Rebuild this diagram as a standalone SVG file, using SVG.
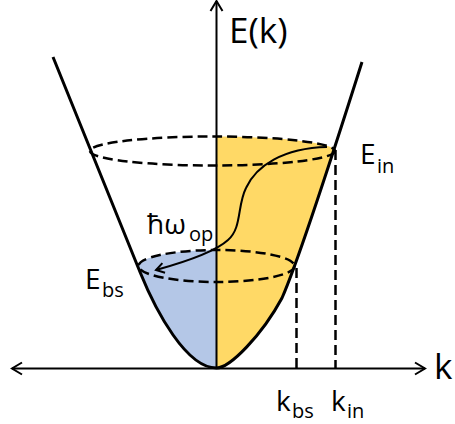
<svg xmlns="http://www.w3.org/2000/svg" width="455" height="424" viewBox="0 0 455 424">
<style>
.lbl{font-family:"Open Sans","Liberation Sans",sans-serif;fill:#000}
.dash{fill:none;stroke:#000;stroke-width:2.5;stroke-dasharray:10 5}
.axis{fill:none;stroke:#000;stroke-width:2}
.band{fill:none;stroke:#000;stroke-width:3;stroke-linejoin:round}
</style>
<defs>
<clipPath id="inside"><path d="M53,57 L140,272 C156.2,312 186.5,368 216.5,368 C230,368 262,335 282,298 C299.6,258 343,122 362,62 Z"/></clipPath>
<marker id="chev" markerUnits="userSpaceOnUse" markerWidth="24" markerHeight="24" viewBox="-12 -12 24 24" refX="0" refY="0" orient="auto-start-reverse"><path d="M-10,-6 L0,0 L-10,6" fill="none" stroke="#000" stroke-width="2"/></marker>
<marker id="chevs" markerUnits="userSpaceOnUse" markerWidth="24" markerHeight="24" viewBox="-12 -12 24 24" refX="0" refY="0" orient="auto"><path d="M-8,-5 L0,0 L-8,5" fill="none" stroke="#000" stroke-width="2"/></marker>
</defs>
<rect width="455" height="424" fill="#fff"/>
<g id="fills" clip-path="url(#inside)">
<path d="M216.5,380 L216.5,136.5 A122.5,14.5 0 0 1 335,151 L420,151 L420,380 Z" fill="#FFD966"/>
<path d="M216.5,380 L216.5,250 A78,16 0 0 0 138.5,266 L40,266 L40,380 Z" fill="#B4C7E7"/>
</g>
<g id="connectors">
<line id="k-axis" class="axis" x1="12" y1="368.5" x2="425" y2="368.5" marker-start="url(#chev)" marker-end="url(#chev)"/>
<line id="E-axis" class="axis" x1="216.5" y1="368.5" x2="216.5" y2="1" marker-end="url(#chev)"/>
<line id="k-in-drop" class="dash" x1="335.5" y1="150" x2="335.5" y2="368"/>
<line id="k-bs-drop" class="dash" x1="296.5" y1="268" x2="296.5" y2="368"/>
<path id="relaxation" d="M327,147 C283,148 256,166 246,188 C237,206 242,228 228,240 C215,252 185,262 156,270" fill="none" stroke="#000" stroke-width="2" marker-end="url(#chevs)"/>
</g>
<g id="ellipse-in"><ellipse class="dash" cx="212.5" cy="151" rx="122.5" ry="14.5"/></g>
<g id="ellipse-bs"><ellipse class="dash" cx="216.5" cy="266" rx="78" ry="16"/></g>
<g id="band"><path class="band" d="M53,57 L140,272 C156.2,312 186.5,368 216.5,368 C230,368 262,335 282,298 C299.6,258 343,122 362,62"/></g>
<g id="labels">
<text id="lbl-Ek" class="lbl" x="229" y="43" font-size="35">E(k)</text>
<text id="lbl-k" class="lbl" x="434" y="379" font-size="35">k</text>
<text id="lbl-Ein" class="lbl" font-size="28"><tspan x="360" y="164">E</tspan><tspan x="377" y="173" font-size="20">in</tspan></text>
<text id="lbl-Ebs" class="lbl" font-size="28"><tspan x="85" y="289">E</tspan><tspan x="102" y="297" font-size="20">bs</tspan></text>
<text id="lbl-hw" class="lbl" font-size="28"><tspan x="147" y="234">ħω</tspan><tspan x="189" y="241" font-size="20">op</tspan></text>
<text id="lbl-kbs" class="lbl" font-size="28"><tspan x="276" y="411">k</tspan><tspan x="292" y="418" font-size="20">bs</tspan></text>
<text id="lbl-kin" class="lbl" font-size="28"><tspan x="331" y="411">k</tspan><tspan x="347" y="418" font-size="20">in</tspan></text>
</g>
</svg>
